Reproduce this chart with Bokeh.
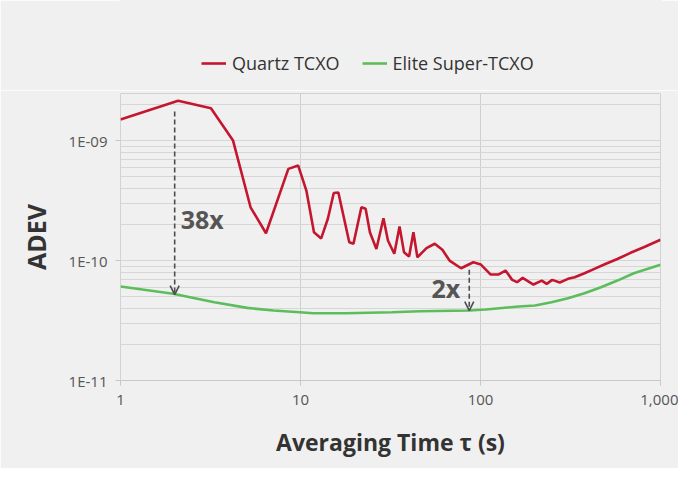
from bokeh.plotting import figure
from bokeh.layouts import column
from bokeh.models import (Range1d, FixedTicker, CustomJSTickFormatter, Legend,
                          LegendItem, Arrow, OpenHead)
from bokeh.core.properties import value
from bokeh.embed import file_html
from bokeh.resources import INLINE

# ---- data ----
quartz_tau = [1.0, 2.09, 3.18, 4.22, 5.28, 6.43, 8.56, 9.71, 10.78, 11.88, 13.03,
              14.19, 15.3, 16.23, 18.66, 19.69, 21.79, 23.0, 24.3, 26.4, 28.9,
              30.6, 33.2, 35.5, 37.6, 40.1, 42.4, 44.6, 50.1, 55.7, 61.4, 67.3,
              78.0, 91.2, 100.5, 114, 125.6, 137.7, 150, 159.7, 171.4, 196.9,
              218.9, 233.2, 250.2, 275.8, 306.3, 333.4, 378.3, 429.2, 486.6,
              575.8, 682, 807, 1000]
quartz_adev = [1.50e-9, 2.15e-9, 1.86e-9, 1.0e-9, 2.78e-10, 1.69e-10, 5.81e-10,
               6.19e-10, 3.83e-10, 1.72e-10, 1.53e-10, 2.23e-10, 3.66e-10,
               3.69e-10, 1.42e-10, 1.38e-10, 2.78e-10, 2.70e-10, 1.72e-10,
               1.25e-10, 2.25e-10, 1.47e-10, 1.14e-10, 1.92e-10, 1.17e-10,
               1.08e-10, 1.72e-10, 1.065e-10, 1.27e-10, 1.38e-10, 1.23e-10,
               1.0e-10, 8.63e-11, 9.68e-11, 9.26e-11, 7.64e-11, 7.64e-11,
               8.25e-11, 6.90e-11, 6.60e-11, 7.17e-11, 6.31e-11, 6.81e-11,
               6.39e-11, 6.90e-11, 6.56e-11, 7.04e-11, 7.26e-11, 7.84e-11,
               8.53e-11, 9.26e-11, 1.03e-10, 1.16e-10, 1.29e-10, 1.49e-10]

elite_tau = [1.0, 1.96, 3.32, 5.06, 7.08, 9.92, 11.73, 17.87, 32.2, 46.1, 86.7,
             107, 163, 201, 248, 306, 378, 467, 576, 711, 1000]
elite_adev = [6.07e-11, 5.28e-11, 4.49e-11, 4.03e-11, 3.83e-11, 3.71e-11,
              3.64e-11, 3.64e-11, 3.71e-11, 3.78e-11, 3.83e-11, 3.91e-11,
              4.14e-11, 4.22e-11, 4.49e-11, 4.85e-11, 5.34e-11, 5.99e-11,
              6.81e-11, 7.84e-11, 9.21e-11]

ratio_tau = [2.0, 86.6]
ratio_top = [1.75e-9, 8.4e-11]
ratio_bottom = [5.2e-11, 3.83e-11]
ratio_label_y = [2.24e-10, 5.96e-11]
ratio_labels = ["38x", "2x"]

x_ticks = [1, 10, 100, 1000]
y_ticks = [1e-11, 1e-10, 1e-9]
series_names = ["Quartz TCXO", "Elite Super-TCXO"]

# ---- styling ----
BG = "#f0f0f0"
FONT = "Open Sans"
RED = "#c4172f"
GREEN = "#5cbd5c"
W = 678

# ---- legend strip (separate figure above the chart; data kept off-range) ----
leg = figure(width=W, height=90, output_backend="svg", toolbar_location=None,
             x_range=Range1d(-2, -1), y_range=Range1d(-2, -1), min_border=0)
leg.background_fill_color = BG
leg.border_fill_color = BG
leg.outline_line_color = BG
leg.outline_line_width = 3
leg.axis.visible = False
leg.grid.visible = False
lr1 = leg.line(quartz_tau, quartz_adev, line_color=RED, line_width=2.6)
lr2 = leg.line(elite_tau, elite_adev, line_color=GREEN, line_width=2.6)
legend = Legend(items=[LegendItem(label=series_names[0], renderers=[lr1]),
                       LegendItem(label=series_names[1], renderers=[lr2])],
                orientation="horizontal", location=(77, 11),
                glyph_width=25, glyph_height=20, label_standoff=6, spacing=22,
                padding=4, margin=0, background_fill_alpha=0,
                border_line_alpha=0, label_text_font=FONT,
                label_text_font_size="18px", label_text_color="#333333")
leg.add_layout(legend, "center")

# ---- main chart ----
p = figure(width=W, height=378, x_axis_type="log", y_axis_type="log",
           x_range=Range1d(1, 1000), y_range=Range1d(1e-11, 2.47e-9),
           output_backend="svg", toolbar_location=None,
           min_border_left=120, min_border_right=18, min_border_top=3,
           min_border_bottom=88)
p.background_fill_color = BG
p.border_fill_color = BG
p.outline_line_color = "#d2d2d2"

xt = FixedTicker(ticks=x_ticks, minor_ticks=[])
yt = FixedTicker(ticks=y_ticks,
                 minor_ticks=[m * t for t in y_ticks for m in range(2, 10)])
p.xaxis.ticker = xt
p.xgrid.ticker = xt
p.yaxis.ticker = yt
p.ygrid.ticker = yt

p.xaxis.formatter = CustomJSTickFormatter(
    code="return Math.round(tick).toLocaleString('en-US');")
p.yaxis.formatter = CustomJSTickFormatter(
    code="const e = Math.round(Math.log10(tick)); return '1E-' + String(-e).padStart(2, '0');")

p.xgrid.grid_line_color = "#cfcfcf"
p.ygrid.grid_line_color = "#d6d6d6"
p.ygrid.minor_grid_line_color = "#d6d6d6"

for ax in (p.xaxis[0], p.yaxis[0]):
    ax.axis_line_color = "#c8c8c8"
    ax.major_tick_line_color = "#c8c8c8"
    ax.major_tick_out = 5
    ax.major_tick_in = 0
    ax.minor_tick_line_color = None
    ax.major_label_text_font = FONT
    ax.major_label_text_font_size = "15px"
    ax.major_label_text_color = "#555555"
    ax.axis_label_text_font = FONT
    ax.axis_label_text_font_style = "bold"
    ax.axis_label_text_color = "#333333"

p.yaxis.axis_line_color = None
p.xaxis.major_label_standoff = 9
p.yaxis.major_label_standoff = 8
p.xaxis.axis_label = "Averaging Time τ (s)"
p.xaxis.axis_label_text_font_size = "23px"
p.xaxis.axis_label_standoff = 18
p.yaxis.axis_label = "ADEV"
p.yaxis.axis_label_text_font_size = "25px"
p.yaxis.axis_label_standoff = 13

r1 = p.line(quartz_tau, quartz_adev, line_color=RED, line_width=2.6)
r2 = p.line(elite_tau, elite_adev, line_color=GREEN, line_width=2.6)

for i in range(len(ratio_tau)):
    p.add_layout(Arrow(end=OpenHead(size=9, line_color="#4d4d4d", line_width=1.6),
                       x_start=ratio_tau[i], y_start=ratio_top[i],
                       x_end=ratio_tau[i], y_end=ratio_bottom[i],
                       line_color="#4d4d4d", line_width=1.6, line_dash="5 3"))

p.text(x=[ratio_tau[0]], y=[ratio_label_y[0]], text=[ratio_labels[0]],
       text_font=value(FONT), text_font_style="bold", text_font_size="25px",
       text_color="#555555", text_align="left", text_baseline="middle",
       x_offset=6)
p.text(x=[ratio_tau[1]], y=[ratio_label_y[1]], text=[ratio_labels[1]],
       text_font=value(FONT), text_font_style="bold", text_font_size="25px",
       text_color="#555555", text_align="right", text_baseline="middle",
       x_offset=-9)

layout = column(leg, p, spacing=0)
open("out.html", "w").write(file_html(layout, INLINE))
